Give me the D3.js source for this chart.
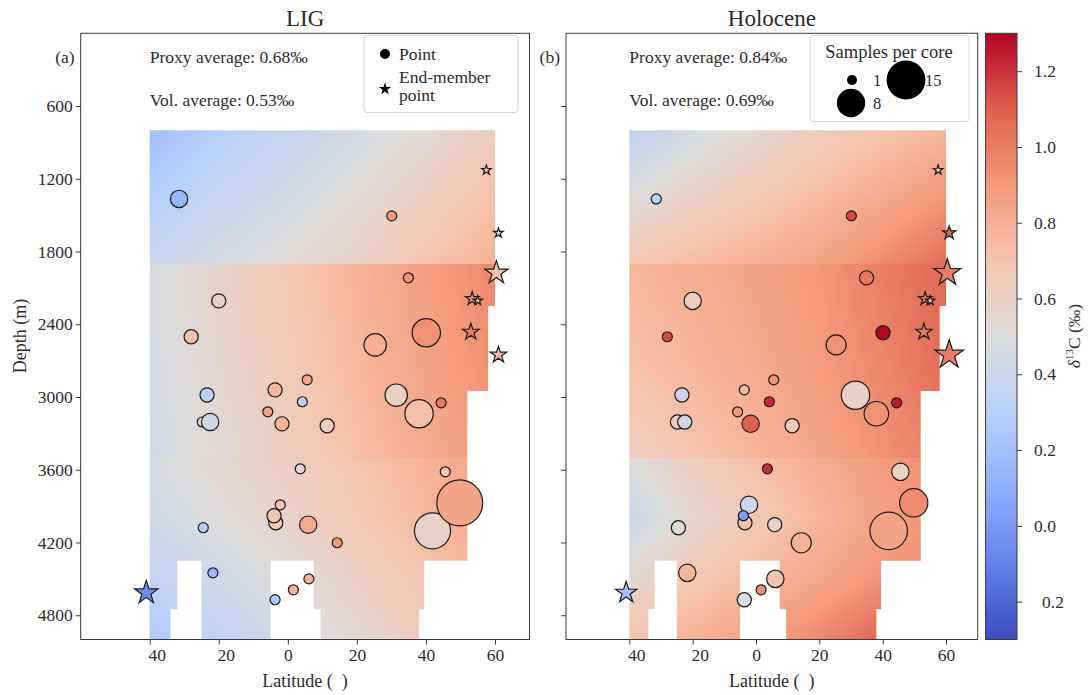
<!DOCTYPE html>
<html>
<head>
<meta charset="utf-8">
<script src="https://cdn.jsdelivr.net/npm/d3@7"></script>
<style>
  body { margin: 0; background: #fff; }
  text { font-family: "Liberation Serif", "DejaVu Serif", serif; fill: #2b2b2b; }
</style>
</head>
<body>
<div id="chart"></div>
<script>
// ---------------- data ----------------
const panelTitles = ["LIG", "Holocene"];
const panelTags = ["(a)", "(b)"];
const proxyAverages = ["0.68", "0.84"];
const volAverages = ["0.53", "0.69"];

const depthTicks = [600, 1200, 1800, 2400, 3000, 3600, 4200, 4800];
const latTicks = [-40, -20, 0, 20, 40, 60];
const latTickLabels = ["40", "20", "0", "20", "40", "60"];
const cbarTicks = [-0.2, 0.0, 0.2, 0.4, 0.6, 0.8, 1.0, 1.2];
const cbarTickLabels = ["0.2", "0.0", "0.2", "0.4", "0.6", "0.8", "1.0", "1.2"];

// core sites (circles): latitude, depth (m)
const coreLat = [-31.5, 30.1, 34.9, -20.0, -28.0, 25.3, 40.1, 5.6, -3.7, -23.4, 31.4, 44.4, 4.2, -5.8, -1.7, 11.4, 38.0, -24.8, -22.5, 3.6, 45.6, 41.9, 49.8, -2.2, -3.5, -4.0, 5.9, 14.3, -24.5, -21.7, 6.1, 1.6, -3.7];
const coreDepth = [1366, 1506, 2017, 2207, 2503, 2570, 2470, 2858, 2941, 2983, 2985, 3048, 3039, 3122, 3221, 3237, 3138, 3206, 3206, 3592, 3617, 4104, 3873, 3889, 4037, 3979, 4053, 4202, 4078, 4450, 4500, 4590, 4672];
// d13C (permil) and samples per core
const ligValue = [0.15, 0.90, 0.92, 0.58, 0.72, 0.80, 0.93, 0.85, 0.76, 0.30, 0.60, 1.00, 0.30, 0.85, 0.77, 0.62, 0.72, 0.55, 0.42, 0.52, 0.66, 0.58, 0.85, 0.70, 0.65, 0.68, 0.83, 0.90, 0.30, 0.15, 0.78, 0.78, 0.25];
const ligCount = [3, 1, 1, 2, 2, 5, 8, 1, 2, 2, 5, 1, 1, 1, 2, 2, 8, 1, 3, 1, 1, 13, 21, 1, 2, 2, 3, 1, 1, 1, 1, 1, 1];
const holValue = [0.35, 1.15, 1.02, 0.62, 1.15, 0.93, 1.30, 0.92, 0.76, 0.40, 0.60, 1.25, 1.22, 0.90, 1.10, 0.66, 0.93, 0.62, 0.42, 1.22, 0.60, 0.86, 0.95, 0.42, 0.70, 0.02, 0.58, 0.78, 0.50, 0.77, 0.70, 0.93, 0.50];
const holCount = [1, 1, 2, 3, 1, 4, 2, 1, 1, 2, 8, 1, 1, 1, 3, 2, 6, 2, 2, 1, 3, 14, 8, 3, 2, 1, 2, 4, 2, 3, 3, 1, 2];

// end-member points (stars)
const endLat = [57.5, 61.0, 60.4, 53.4, 55.0, 53.0, 61.0, -41.0];
const endDepth = [1128, 1647, 1976, 2190, 2205, 2463, 2652, 4614];
const ligEndValue = [0.58, 0.55, 0.72, 0.90, 0.75, 1.00, 0.77, -0.05];
const ligEndCount = [1, 1, 6, 2, 1, 3, 3, 6];
const holEndValue = [0.55, 1.07, 1.00, 1.00, 0.62, 1.00, 1.00, 0.20];
const holEndCount = [1, 2, 8, 2, 1, 3, 9, 5];

// reconstructed field: latitude nodes and depth nodes of three water-mass layers
const fieldLat = [-40, -20, 0, 20, 40, 60];
const upperDepth = [800, 1900];
const middleDepth = [1900, 2700, 3500];
const lowerDepth = [3500, 4000, 4500, 5000];
const ligUpper = [
  [0.19, 0.29, 0.37, 0.45, 0.53, 0.64],
  [0.38, 0.46, 0.52, 0.59, 0.70, 0.79]];
const ligMiddle = [
  [0.47, 0.58, 0.68, 0.78, 0.88, 0.96],
  [0.46, 0.56, 0.66, 0.76, 0.86, 0.94],
  [0.44, 0.53, 0.62, 0.72, 0.82, 0.90]];
const ligLower = [
  [0.47, 0.55, 0.62, 0.70, 0.78, 0.86],
  [0.43, 0.50, 0.58, 0.67, 0.76, 0.84],
  [0.35, 0.43, 0.51, 0.60, 0.70, 0.78],
  [0.25, 0.34, 0.44, 0.54, 0.65, 0.72]];
const holUpper = [
  [0.32, 0.45, 0.55, 0.63, 0.70, 0.77],
  [0.68, 0.74, 0.79, 0.86, 0.95, 1.05]];
const holMiddle = [
  [0.76, 0.81, 0.86, 0.91, 1.00, 1.07],
  [0.72, 0.77, 0.83, 0.89, 0.97, 1.06],
  [0.62, 0.70, 0.77, 0.85, 0.93, 1.00]];
const holLower = [
  [0.50, 0.63, 0.73, 0.81, 0.90, 0.95],
  [0.40, 0.55, 0.66, 0.77, 0.87, 0.93],
  [0.55, 0.67, 0.76, 0.84, 0.92, 0.97],
  [0.70, 0.79, 0.87, 0.96, 1.08, 1.12]];

// seafloor outline bounding the field (latitude, depth)
const basinLat = [-40, 60, 60, 58, 58, 52, 52, 39.5, 39.5, 38, 38, 9.5, 9.5, 7.5, 7.5, -5, -5, -25, -25, -32, -32, -34, -34, -40];
const basinDepth = [800, 800, 2250, 2250, 2950, 2950, 4350, 4350, 4750, 4750, 5000, 5000, 4750, 4750, 4350, 4350, 5000, 5000, 4350, 4350, 4750, 4750, 5000, 5000];

const legendSizes = [1, 8, 15];

// ---------------- layout ----------------
const W = 1091, H = 695;
const plotTop = 33.3, plotBottom = 639.5;
const panels = [
  { x0: 80.7, x1: 529.5, values: ligValue, counts: ligCount, endValues: ligEndValue, endCounts: ligEndCount, layers: [ligUpper, ligMiddle, ligLower] },
  { x0: 566, x1: 977.7, values: holValue, counts: holCount, endValues: holEndValue, endCounts: holEndCount, layers: [holUpper, holMiddle, holLower] }
];

const coolwarm = ["#3b4cc0", "#6282ea", "#8db0fe", "#b8d0f9", "#dddcdc", "#f5c4ad", "#f49a7b", "#de604d", "#b40426"];
const color = d3.scaleSequential(d3.piecewise(d3.interpolateRgb, coolwarm)).domain([-0.3, 1.3]).clamp(true);
const rScale = d3.scaleSqrt().domain([0, 15]).range([0, 19.4]);
const STAR_K = 0.8908130915292852;

const svg = d3.select("#chart").append("svg")
  .attr("width", W).attr("height", H)
  .style("background", "#fff");
const defs = svg.append("defs");

const y = d3.scaleLinear().domain([0, 5000]).range([plotTop, plotBottom]);

function interpLayer(grid, depths, lat, dep) {
  const li = Math.max(0, Math.min(fieldLat.length - 2, d3.bisectRight(fieldLat, lat) - 1));
  const di = Math.max(0, Math.min(depths.length - 2, d3.bisectRight(depths, dep) - 1));
  const tx = Math.max(0, Math.min(1, (lat - fieldLat[li]) / (fieldLat[li + 1] - fieldLat[li])));
  const ty = Math.max(0, Math.min(1, (dep - depths[di]) / (depths[di + 1] - depths[di])));
  const a = grid[di][li], b = grid[di][li + 1], c = grid[di + 1][li], d = grid[di + 1][li + 1];
  return (a * (1 - tx) + b * tx) * (1 - ty) + (c * (1 - tx) + d * tx) * ty;
}

function fieldImage(x, layers) {
  const px0 = Math.floor(x(-40)), px1 = Math.ceil(x(60));
  const py0 = Math.floor(y(800)), py1 = Math.ceil(y(5000));
  const w = px1 - px0, h = py1 - py0;
  const canvas = document.createElement("canvas");
  canvas.width = w; canvas.height = h;
  const ctx = canvas.getContext("2d");
  const img = ctx.createImageData(w, h);
  for (let j = 0; j < h; j++) {
    const dep = y.invert(py0 + j + 0.5);
    for (let i = 0; i < w; i++) {
      const lat = x.invert(px0 + i + 0.5);
      let v;
      if (dep < 1900) v = interpLayer(layers[0], upperDepth, lat, dep);
      else if (dep < 3500) v = interpLayer(layers[1], middleDepth, lat, dep);
      else v = interpLayer(layers[2], lowerDepth, lat, dep);
      const c = d3.rgb(color(v));
      const k = (j * w + i) * 4;
      img.data[k] = c.r; img.data[k + 1] = c.g; img.data[k + 2] = c.b; img.data[k + 3] = 255;
    }
  }
  ctx.putImageData(img, 0, 0);
  return { url: canvas.toDataURL(), x: px0, y: py0, w, h };
}

panels.forEach((p, pi) => {
  const x = d3.scaleLinear().domain([-60, 70]).range([p.x0, p.x1]);
  const g = svg.append("g");

  // field clipped to the basin outline
  const clipId = "basin" + pi;
  const outline = basinLat.map((la, i) => [x(la), y(basinDepth[i])]);
  defs.append("clipPath").attr("id", clipId)
    .append("path").attr("d", d3.line()(outline) + "Z");
  const f = fieldImage(x, p.layers);
  g.append("image")
    .attr("href", f.url).attr("x", f.x).attr("y", f.y)
    .attr("width", f.w).attr("height", f.h)
    .attr("preserveAspectRatio", "none")
    .attr("clip-path", `url(#${clipId})`);

  // circles (cores)
  const cores = coreLat.map((la, i) => ({ lat: la, depth: coreDepth[i], v: p.values[i], n: p.counts[i] }));
  g.selectAll("circle.core").data(cores).join("circle")
    .attr("class", "core")
    .attr("cx", d => x(d.lat)).attr("cy", d => y(d.depth))
    .attr("r", d => rScale(d.n))
    .attr("fill", d => color(d.v))
    .attr("stroke", "#1a1a1a").attr("stroke-width", 1.2);

  // stars (end-member points)
  const ends = endLat.map((la, i) => ({ lat: la, depth: endDepth[i], v: p.endValues[i], n: p.endCounts[i] }));
  g.selectAll("path.end").data(ends).join("path")
    .attr("class", "end")
    .attr("transform", d => `translate(${x(d.lat)},${y(d.depth)})`)
    .attr("d", d => d3.symbol(d3.symbolStar, Math.pow(rScale(d.n), 2) / STAR_K)())
    .attr("fill", d => color(d.v))
    .attr("stroke", "#1a1a1a").attr("stroke-width", 1.2).attr("stroke-linejoin", "miter");

  // frame
  g.append("rect").attr("x", p.x0).attr("y", plotTop)
    .attr("width", p.x1 - p.x0).attr("height", plotBottom - plotTop)
    .attr("fill", "none").attr("stroke", "#3a3a3a").attr("stroke-width", 1);

  // axes
  const xAxis = d3.axisBottom(x).tickValues(latTicks).tickSize(5).tickPadding(4)
    .tickFormat((d, i) => latTickLabels[i]);
  const gx = g.append("g").attr("transform", `translate(0,${plotBottom})`).call(xAxis);
  gx.select(".domain").remove();
  gx.selectAll(".tick line").attr("stroke", "#3a3a3a");
  gx.selectAll(".tick text")
    .attr("font-size", 17.5).attr("font-family", "Liberation Serif").attr("fill", "#2b2b2b")
    .attr("dx", (d) => d < 0 ? 7 : 0);

  const yAxis = d3.axisLeft(y).tickValues(depthTicks).tickSize(5).tickPadding(3)
    .tickFormat(pi === 0 ? d3.format("d") : () => "");
  const gy = g.append("g").attr("transform", `translate(${p.x0},0)`).call(yAxis);
  gy.select(".domain").remove();
  gy.selectAll(".tick line").attr("stroke", "#3a3a3a");
  gy.selectAll(".tick text")
    .attr("font-size", 17.5).attr("font-family", "Liberation Serif").attr("fill", "#2b2b2b");

  const cx = (p.x0 + p.x1) / 2;
  g.append("text").attr("x", cx).attr("y", 26).attr("text-anchor", "middle")
    .attr("font-size", 23).text(panelTitles[pi]);
  g.append("text").attr("x", cx).attr("y", 687).attr("text-anchor", "middle")
    .attr("font-size", 18).text("Latitude (\u2002)");
  g.append("text").attr("x", p.x0 - 6).attr("y", 63).attr("text-anchor", "end")
    .attr("font-size", 17.5).text(panelTags[pi]);

  // averages
  g.append("text").attr("x", x(-40)).attr("y", 63).attr("font-size", 17.5)
    .text(`Proxy average: ${proxyAverages[pi]}\u2030`);
  g.append("text").attr("x", x(-40)).attr("y", 106).attr("font-size", 17.5)
    .text(`Vol. average: ${volAverages[pi]}\u2030`);
});

// y label
svg.append("text").attr("transform", "translate(26,336) rotate(-90)")
  .attr("text-anchor", "middle").attr("font-size", 18).text("Depth (m)");

// ---------------- legends ----------------
// marker legend (panel a)
const lg = svg.append("g");
lg.append("rect").attr("x", 364).attr("y", 35.5).attr("width", 154).attr("height", 77)
  .attr("rx", 3).attr("fill", "#fff").attr("fill-opacity", 0.85)
  .attr("stroke", "#d6d6d6").attr("stroke-width", 1);
lg.append("circle").attr("cx", 385).attr("cy", 54).attr("r", rScale(1)).attr("fill", "#000");
lg.append("text").attr("x", 399).attr("y", 60).attr("font-size", 17.5).text("Point");
lg.append("path").attr("transform", "translate(385,89)")
  .attr("d", d3.symbol(d3.symbolStar, Math.pow(6.5, 2) / STAR_K)()).attr("fill", "#000");
lg.append("text").attr("x", 399).attr("y", 83).attr("font-size", 17.5).text("End-member");
lg.append("text").attr("x", 399).attr("y", 101).attr("font-size", 17.5).text("point");

// size legend (panel b)
const sg = svg.append("g");
sg.append("rect").attr("x", 810).attr("y", 35.5).attr("width", 159).attr("height", 86)
  .attr("rx", 3).attr("fill", "#fff").attr("fill-opacity", 0.85)
  .attr("stroke", "#d6d6d6").attr("stroke-width", 1);
sg.append("text").attr("x", 889).attr("y", 58).attr("text-anchor", "middle")
  .attr("font-size", 18.5).text("Samples per core");
const sizePos = [[852, 80, 873, 86], [851, 103, 873, 109], [906, 80, 925, 86]];
legendSizes.forEach((n, i) => {
  const [cx, cy, tx, ty] = sizePos[i];
  sg.append("circle").attr("cx", cx).attr("cy", cy).attr("r", rScale(n)).attr("fill", "#000");
  sg.append("text").attr("x", tx).attr("y", ty).attr("font-size", 16.5).text(n);
});

// ---------------- colorbar ----------------
const cbX = 985.5, cbW = 31.5;
const cbScale = d3.scaleLinear().domain([-0.3, 1.3]).range([plotBottom, plotTop]);
const grad = defs.append("linearGradient").attr("id", "cbar")
  .attr("x1", 0).attr("y1", 1).attr("x2", 0).attr("y2", 0);
d3.range(0, 1.0001, 0.02).forEach(t => {
  grad.append("stop").attr("offset", t).attr("stop-color", color(-0.3 + 1.6 * t));
});
svg.append("rect").attr("x", cbX).attr("y", plotTop).attr("width", cbW).attr("height", plotBottom - plotTop)
  .attr("fill", "url(#cbar)").attr("stroke", "#3a3a3a").attr("stroke-width", 1);
const cAxis = d3.axisRight(cbScale).tickValues(cbarTicks).tickSize(5).tickPadding(12)
  .tickFormat((d, i) => cbarTickLabels[i]);
const gc = svg.append("g").attr("transform", `translate(${cbX + cbW},0)`).call(cAxis);
gc.select(".domain").remove();
gc.selectAll(".tick line").attr("stroke", "#3a3a3a");
gc.selectAll(".tick text").attr("font-size", 17.5).attr("font-family", "Liberation Serif")
  .attr("fill", "#2b2b2b").attr("dx", d => d < 0 ? 8 : 0);

const cl = svg.append("text").attr("transform", "translate(1080,336) rotate(-90)")
  .attr("text-anchor", "middle").attr("font-size", 17.5);
cl.append("tspan").attr("font-style", "italic").text("\u03b4");
cl.append("tspan").attr("font-size", 11).attr("dy", -7).text("13");
cl.append("tspan").attr("dy", 7).text("C (\u2030)");
</script>
</body>
</html>
